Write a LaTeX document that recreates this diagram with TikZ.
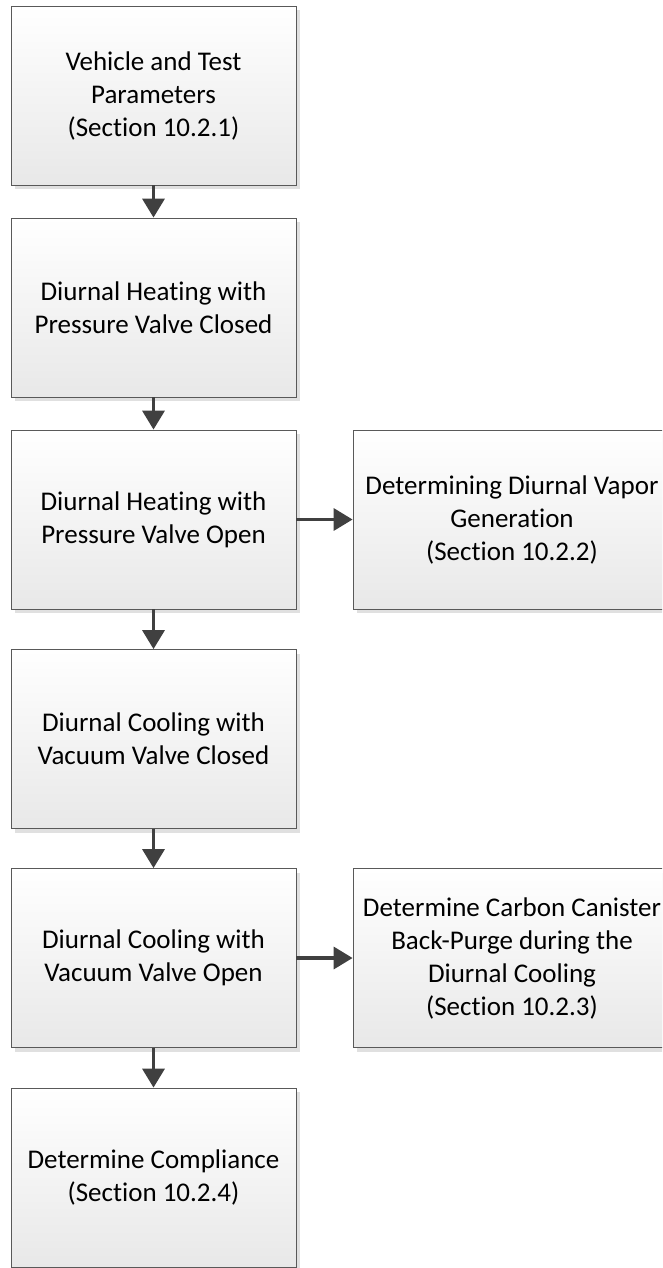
\documentclass[tikz,border=0pt]{standalone}
\usepackage{fontspec}
\setmainfont{Carlito}[Ligatures=CommonOff]
\usetikzlibrary{arrows.meta,shadows}

\tikzset{
  stepbox/.style={draw=black!65, line width=0.8pt, top color=white, bottom color=black!9,
    minimum width=285pt, minimum height=179pt, align=center, inner sep=4pt,
    font=\fontsize{27}{33}\selectfont,
    drop shadow={shadow xshift=4pt, shadow yshift=-4pt, fill=black!12, opacity=1}},
  sidebox/.style={stepbox, minimum width=318pt},
  flow/.style={draw=black!75, line width=3.5pt, -{Triangle[width=22pt,length=19pt]}}
}

\begin{document}
\begin{tikzpicture}[x=1pt, y=-1pt]
                
                  \clip (0, 0) rectangle (662, 1268);
                  \fill[white] (0, 0) rectangle (662, 1268);

                  \node[stepbox] (params) at (153.5, 95.5){Vehicle and Test\\Parameters\\(Section 10.2.1)};
                  \node[stepbox] (heatclosed) at (153.5, 307.5){Diurnal Heating with\\Pressure Valve Closed};
                  \node[stepbox] (heatopen) at (153.5, 519.5){Diurnal Heating with\\Pressure Valve Open};
                  \node[stepbox] (coolclosed) at (153.5, 739){Diurnal Cooling with\\Vacuum Valve Closed};
                  \node[stepbox] (coolopen) at (153.5, 958){Diurnal Cooling with\\Vacuum Valve Open};
                  \node[stepbox] (compliance) at (153.5, 1177.5){Determine Compliance\\(Section 10.2.4)};

                  \node[sidebox] (vapor) at (512, 519.5){Determining Diurnal Vapor\\Generation\\(Section 10.2.2)};
                  \node[sidebox] (purge) at (512, 958){Determine Carbon Canister\\Back-Purge during the\\Diurnal Cooling\\(Section 10.2.3)};

                   \draw[flow] (params) to (heatclosed);
                   \draw[flow] (heatclosed) to (heatopen);
                   \draw[flow] (heatopen) to (coolclosed);
                   \draw[flow] (coolclosed) to (coolopen);
                   \draw[flow] (coolopen) to (compliance);
                   \draw[flow] (heatopen) to (vapor);
                   \draw[flow] (coolopen) to (purge);
                
                \end{tikzpicture}
\end{document}
